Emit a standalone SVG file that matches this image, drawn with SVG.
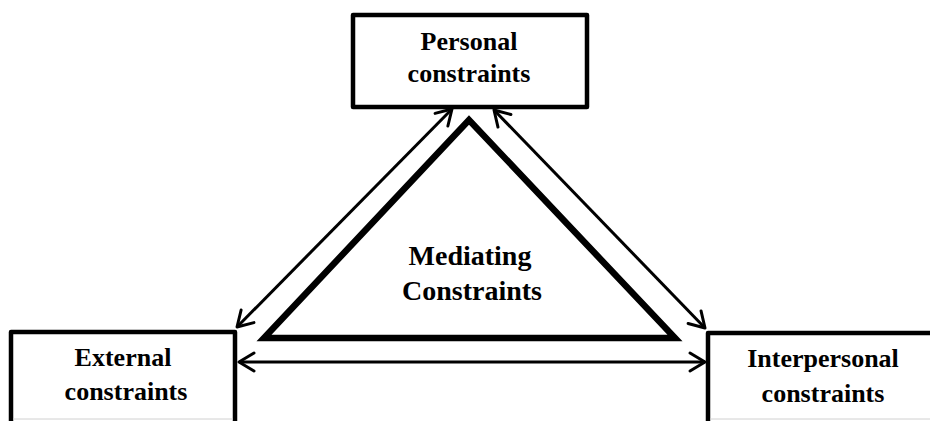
<svg xmlns="http://www.w3.org/2000/svg" width="930" height="421" viewBox="0 0 930 421">
  <style>
    .box { fill: #ffffff; stroke: #000000; stroke-width: 4.5; stroke-linejoin: round; }
    .label { font-family: "Liberation Serif", "Times New Roman", serif; font-weight: bold; font-size: 26px; fill: #000000; text-anchor: middle; }
    .big { font-size: 28px; }
    .conn { stroke: #000000; stroke-width: 3; fill: none; }
    .tri { fill: none; stroke: #000000; stroke-width: 6.5; stroke-linejoin: miter; }
  </style>
  <defs>
    <marker id="arrow" viewBox="-20 -12 24 24" markerWidth="24" markerHeight="24" refX="0" refY="0" orient="auto-start-reverse" markerUnits="userSpaceOnUse">
      <path d="M -15 -9 L 0 0 L -15 9" fill="none" stroke="#000000" stroke-width="3" stroke-linecap="round" stroke-linejoin="round"/>
    </marker>
  </defs>
  <rect width="930" height="421" fill="#ffffff"/>

  <!-- central mediating triangle -->
  <g id="mediating">
    <polygon class="tri" points="469,120 264,338 675,338"/>
    <text class="label big" x="470" y="265">Mediating</text>
    <text class="label big" x="472" y="300">Constraints</text>
  </g>

  <g id="personal">
    <rect class="box" x="353" y="15" width="234" height="92"/>
    <text class="label" x="469" y="50">Personal</text>
    <text class="label" x="469" y="82">constraints</text>
  </g>

  <g id="external">
    <path class="box" d="M 11 430 L 11 332 L 235 332 L 235 430"/>
    <line x1="13" y1="419" x2="233" y2="419" stroke="#d0d0d0" stroke-width="1"/>
    <text class="label" x="123" y="366">External</text>
    <text class="label" x="126" y="400">constraints</text>
  </g>

  <g id="interpersonal">
    <path class="box" d="M 708 430 L 708 333 L 935 333"/>
    <line x1="710" y1="419" x2="930" y2="419" stroke="#d0d0d0" stroke-width="1"/>
    <text class="label" x="823" y="367">Interpersonal</text>
    <text class="label" x="823" y="402">constraints</text>
  </g>

  <g id="connectors">
    <line class="conn" x1="452" y1="109" x2="237" y2="327" marker-start="url(#arrow)" marker-end="url(#arrow)"/>
    <line class="conn" x1="494" y1="110" x2="705" y2="328" marker-start="url(#arrow)" marker-end="url(#arrow)"/>
    <line class="conn" x1="239" y1="362" x2="705" y2="362" marker-start="url(#arrow)" marker-end="url(#arrow)"/>
  </g>
</svg>
